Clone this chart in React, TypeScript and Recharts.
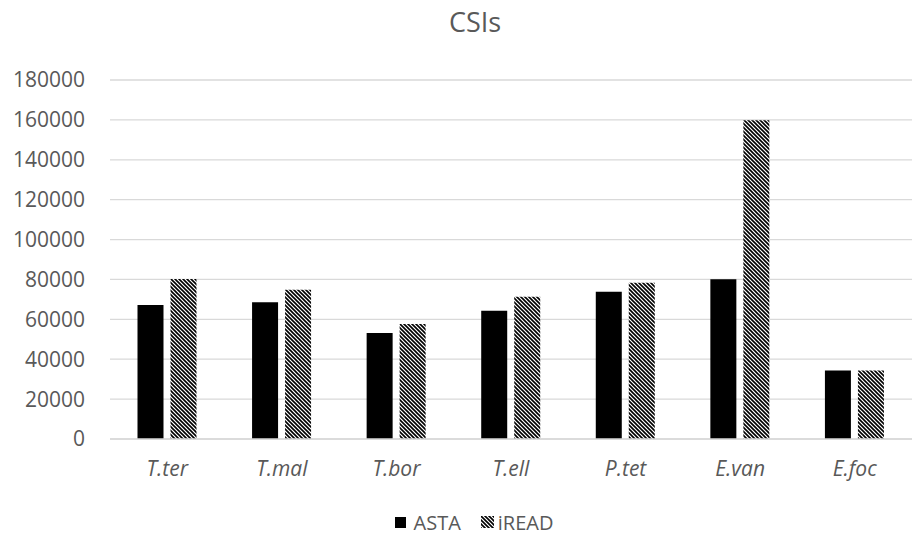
import React from 'react';
import { BarChart, Bar, XAxis, YAxis, CartesianGrid, Legend, Customized } from 'recharts';

if (typeof document !== 'undefined') {
  document.body.style.margin = '0';
}

const species = ['T.ter', 'T.mal', 'T.bor', 'T.ell', 'P.tet', 'E.van', 'E.foc'];
const asta = [67200, 68600, 53100, 64300, 73800, 80100, 34300];
const iread = [80200, 74800, 57700, 71300, 78300, 159800, 34300];
const yTicks = [0, 20000, 40000, 60000, 80000, 100000, 120000, 140000, 160000, 180000];

const data = species.map((s, i) => ({ name: s, ASTA: asta[i], iREAD: iread[i] }));

const FONT = '"Open Sans", sans-serif';
const TXT = '#595959';

const Title = () => (
  <text x={475} y={32} textAnchor="middle" fontFamily={FONT} fontSize={27} fill={TXT}>
    CSIs
  </text>
);

const Defs = () => (
  <defs>
    <pattern id="hatch" width={4} height={4} patternUnits="userSpaceOnUse">
      <rect x={0} y={0} width={4} height={4} fill="#ffffff" />
      <path d="M-1,-1 L5,5 M-1,3 L1,5 M3,-1 L5,1" stroke="#000000" strokeWidth={1.6} />
    </pattern>
  </defs>
);

const renderLegend = () => (
  <div style={{ height: 28, display: 'flex', justifyContent: 'center', alignItems: 'center', fontFamily: FONT, fontSize: 20, color: TXT, paddingLeft: 36 }}>
    <svg width={11} height={11} style={{ marginRight: 8 }}>
      <rect x={0} y={0} width={11} height={11} fill="#000" />
    </svg>
    <span style={{ marginRight: 20 }}>ASTA</span>
    <svg width={13} height={12} style={{ marginRight: 4 }}>
      <rect x={0} y={0} width={13} height={12} fill="url(#hatch)" />
    </svg>
    <span>iREAD</span>
  </div>
);

export default function App() {
  return (
    <div style={{ width: 912, height: 536, background: '#fff' }}>
      <BarChart
        width={912}
        height={536}
        data={data}
        margin={{ top: 80, right: 0, bottom: 0, left: 0 }}
        barCategoryGap="24%"
        barGap={7}
      >
        <Customized component={Defs} />
        <CartesianGrid vertical={false} stroke="#d9d9d9" strokeWidth={1.3} />
        <XAxis
          dataKey="name"
          height={69}
          tickLine={false}
          tickSize={0}
          tickMargin={22}
          axisLine={{ stroke: '#d9d9d9', strokeWidth: 1.3 }}
          tick={{ fontFamily: FONT, fontSize: 21, fill: TXT, fontStyle: 'italic' }}
          interval={0}
        />
        <YAxis
          width={110}
          domain={[0, 180000]}
          ticks={yTicks}
          axisLine={false}
          tickLine={false}
          tickSize={0}
          tickMargin={25}
          tick={{ fontFamily: FONT, fontSize: 21, fill: TXT }}
          interval={0}
        />
        <Legend verticalAlign="bottom" content={renderLegend} />
        <Bar dataKey="ASTA" fill="#000000" isAnimationActive={false} />
        <Bar dataKey="iREAD" fill="url(#hatch)" isAnimationActive={false} />
        <Customized component={Title} />
      </BarChart>
    </div>
  );
}
